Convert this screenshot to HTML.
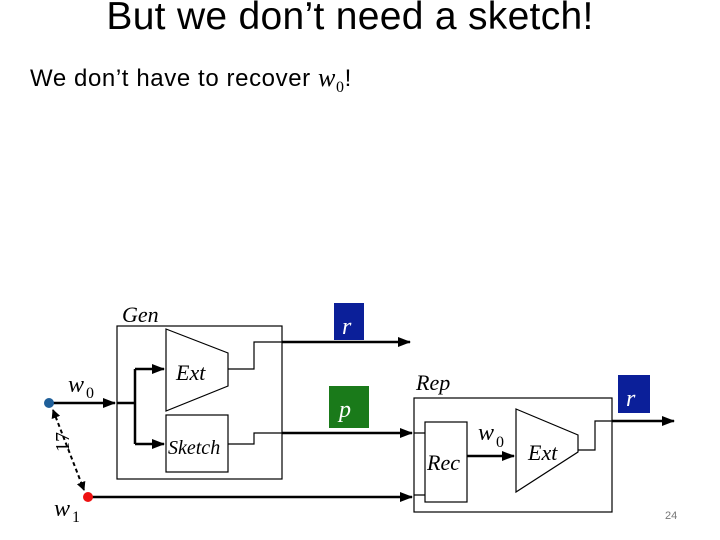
<!DOCTYPE html>
<html><head><meta charset="utf-8"><style>
body{margin:0;width:720px;height:540px;background:#fff;overflow:hidden;position:relative;font-family:"Liberation Sans",sans-serif}
.t{position:absolute;white-space:nowrap}
</style></head><body>
<div class="t" style="left:0;width:700px;text-align:center;top:-5px;font-size:39px;letter-spacing:0.3px">But we don’t need a sketch!</div>
<div class="t" style="left:30px;top:63px;font-size:24px;letter-spacing:0.6px">We don’t have to recover <i style="font-family:'Liberation Serif',serif;font-size:26px">w</i><sub style="font-family:'Liberation Serif',serif;font-size:16px">0</sub>!</div>
<svg width="720" height="540" style="position:absolute;left:0;top:0" font-family="Liberation Serif,serif" font-style="italic">
<defs><marker id="a" markerWidth="13" markerHeight="10" refX="12" refY="5" orient="auto" markerUnits="userSpaceOnUse"><path d="M0,0L13,5L0,10z" fill="#000"/></marker>
<marker id="b" markerWidth="9" markerHeight="9" refX="8" refY="4.5" orient="auto-start-reverse" markerUnits="userSpaceOnUse"><path d="M0,0L9,4.5L0,9z" fill="#000"/></marker></defs>
<g fill="none" stroke="#000" stroke-width="1.2">
<rect x="117" y="326" width="165" height="153"/>
<path d="M166,329L228,353L228,386L166,411Z"/>
<rect x="166" y="415" width="62" height="57"/>
<path d="M228,369H254V342H282"/>
<path d="M228,444H254V433H282"/>
<rect x="414" y="398" width="198" height="114"/>
<rect x="425" y="422" width="42" height="80"/>
<path d="M516,409L578,435L578,452L516,492Z"/>
<path d="M578,450H595V421H612"/>
<path d="M414,433H425M414,495H425"/>
</g>
<g fill="none" stroke="#000" stroke-width="2.5">
<path d="M50,403H115" marker-end="url(#a)"/>
<path d="M117,403H135M135,369V444"/>
<path d="M135,369H164" marker-end="url(#a)"/>
<path d="M135,444H164" marker-end="url(#a)"/>
<path d="M282,342H410" marker-end="url(#a)"/>
<path d="M282,433H412" marker-end="url(#a)"/>
<path d="M90,497H412" marker-end="url(#a)"/>
<path d="M467,456H514" marker-end="url(#a)"/>
<path d="M612,421H674" marker-end="url(#a)"/>
<path d="M53,410L84,490" stroke-width="2" stroke-dasharray="4,3" marker-start="url(#b)" marker-end="url(#b)"/>
</g>
<circle cx="49" cy="403" r="5" fill="#1f5f99"/>
<circle cx="88" cy="497" r="5" fill="#ee1111"/>
<rect x="334" y="303" width="30" height="37" fill="#0b1f99"/>
<rect x="329" y="386" width="40" height="42" fill="#1a7a1a"/>
<rect x="618" y="375" width="32" height="38" fill="#0b1f99"/>
<g font-size="22" fill="#000">
<text x="122" y="322">Gen</text>
<text x="176" y="380">Ext</text>
<text x="168" y="454" font-size="20">Sketch</text>
<text x="68" y="392" font-size="24">w</text><text x="86" y="398" font-size="16" font-style="normal">0</text>
<text x="54" y="516" font-size="24">w</text><text x="72" y="522" font-size="16" font-style="normal">1</text>
<text x="416" y="390">Rep</text>
<text x="427" y="470">Rec</text>
<text x="478" y="440" font-size="24">w</text><text x="496" y="447" font-size="16" font-style="normal">0</text>
<text x="528" y="460">Ext</text>
<text x="342" y="334" fill="#fff" font-size="24">r</text>
<text x="339" y="417" fill="#fff" font-size="24">p</text>
<text x="626" y="406" fill="#fff" font-size="24">r</text>
<text transform="translate(69,442) rotate(-90)" font-style="normal" font-size="20" text-anchor="middle">17</text>
</g>
<text x="665" y="519" font-family="Liberation Sans,sans-serif" font-style="normal" font-size="11" fill="#777">24</text>
</svg>
</body></html>
